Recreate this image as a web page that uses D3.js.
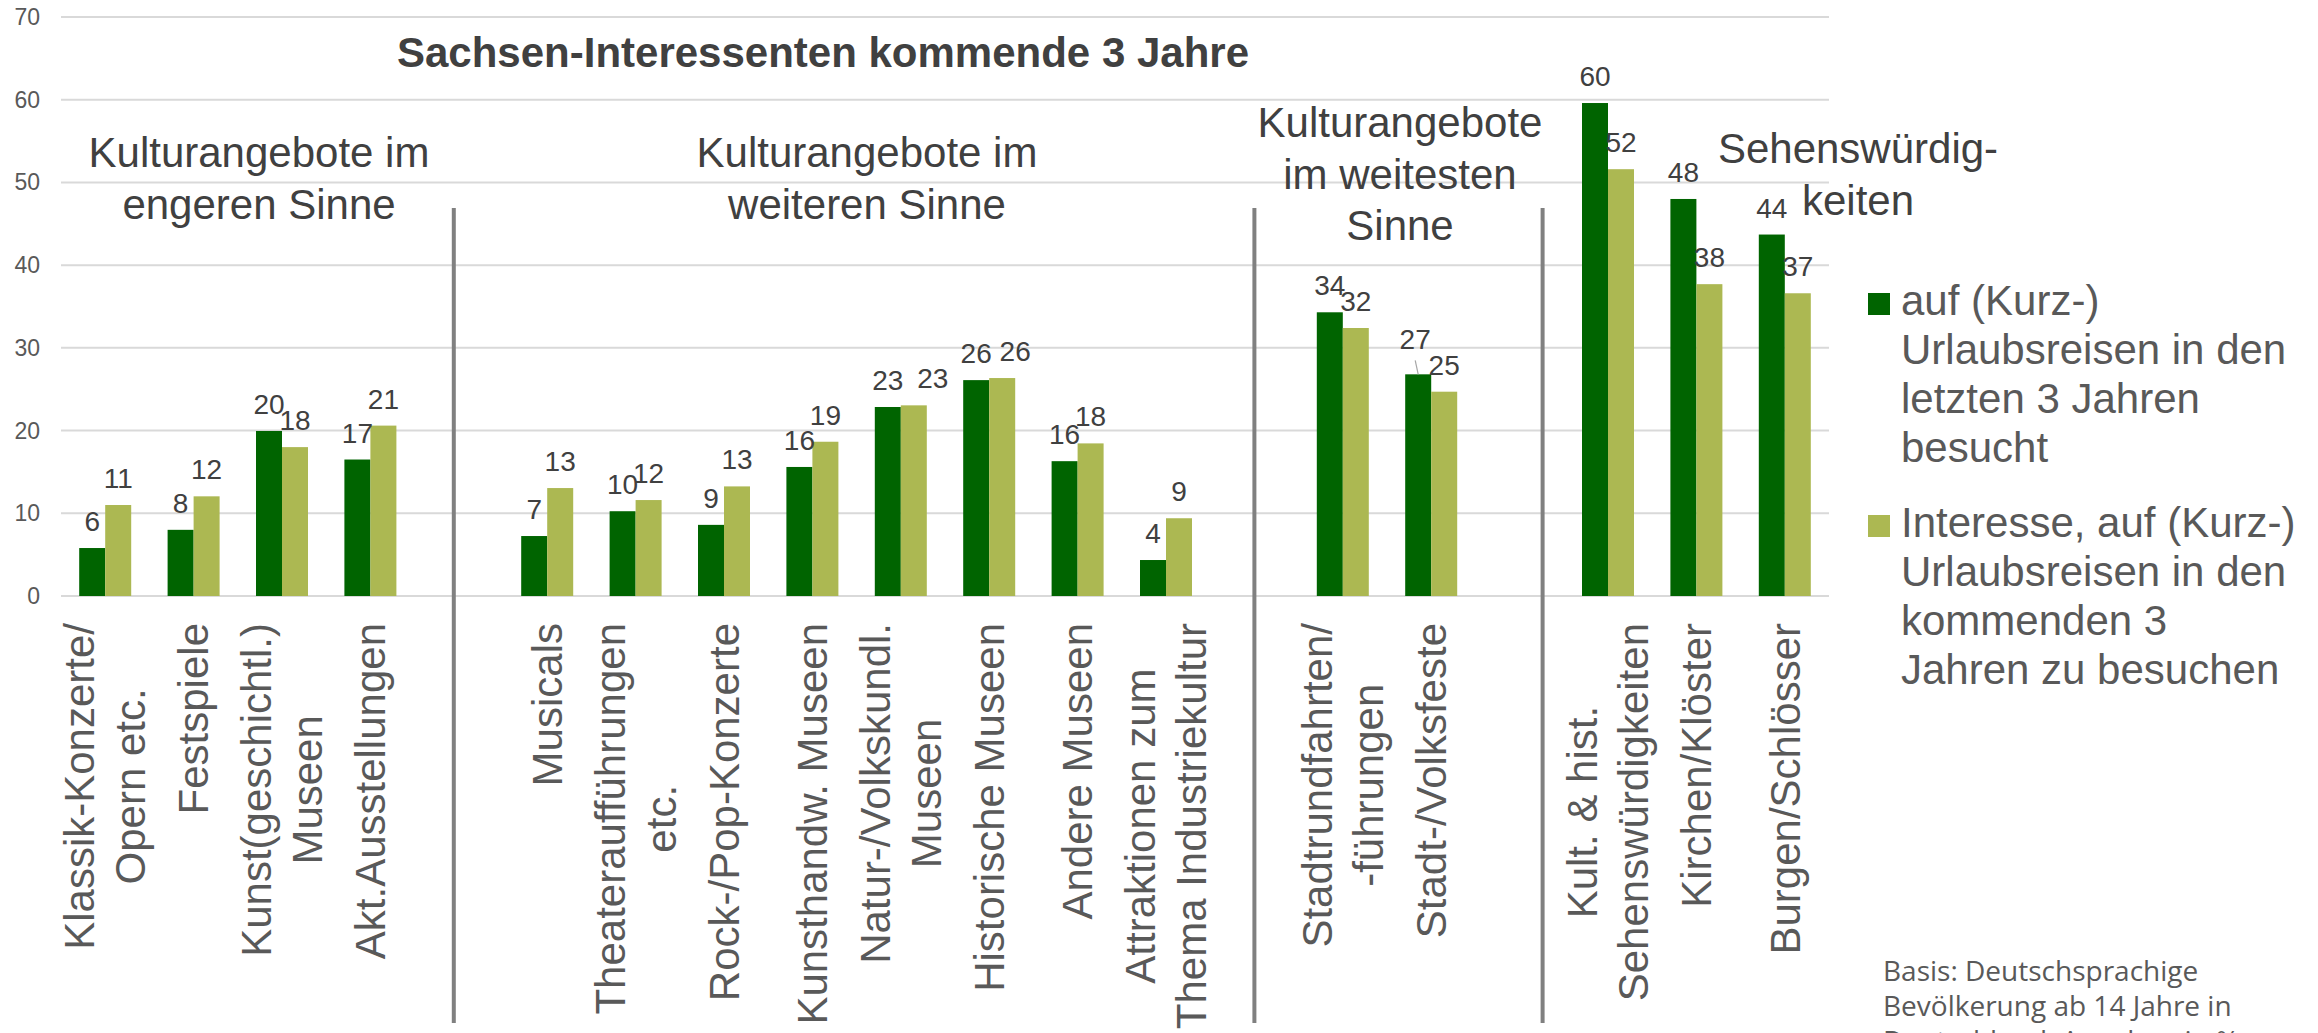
<!DOCTYPE html>
<html><head><meta charset="utf-8">
<script src="https://cdn.jsdelivr.net/npm/d3@7"></script>
<style>html,body{margin:0;padding:0;background:#fff;overflow:hidden}</style>
</head><body>
<svg id="chart" width="2318" height="1033"></svg>
<script>
// ---------- data ----------
const categories = [
  ["Klassik-Konzerte/", "Opern etc."],
  ["Festspiele"],
  ["Kunst(geschichtl.)", "Museen"],
  ["Akt.Ausstellungen"],
  ["Musicals"],
  ["Theateraufführungen", "etc."],
  ["Rock-/Pop-Konzerte"],
  ["Kunsthandw. Museen"],
  ["Natur-/Volkskundl.", "Museen"],
  ["Historische Museen"],
  ["Andere Museen"],
  ["Attraktionen zum", "Thema Industriekultur"],
  ["Stadtrundfahrten/", "-führungen"],
  ["Stadt-/Volksfeste"],
  ["Kult. & hist.", "Sehenswürdigkeiten"],
  ["Kirchen/Klöster"],
  ["Burgen/Schlösser"]
];
const visited  = [5.8, 8.0, 19.95, 16.5, 7.25, 10.25, 8.6, 15.6, 22.85, 26.1, 16.3, 4.35, 34.3, 26.8, 59.6, 48.0, 43.7];
const interest = [11.0, 12.05, 18.0, 20.6, 13.05, 11.6, 13.25, 18.65, 23.05, 26.35, 18.45, 9.4, 32.4, 24.7, 51.6, 37.7, 36.6];
const groupSizes = [4, 8, 2, 3];
const groupLabels = [
  ["Kulturangebote im", "engeren Sinne"],
  ["Kulturangebote im", "weiteren Sinne"],
  ["Kulturangebote", "im weitesten", "Sinne"],
  ["Sehenswürdig-", "keiten"]
];
const seriesNames = [
  ["auf (Kurz-)", "Urlaubsreisen in den", "letzten 3 Jahren", "besucht"],
  ["Interesse, auf (Kurz-)", "Urlaubsreisen in den", "kommenden 3", "Jahren zu besuchen"]
];
const yTicks = [0, 10, 20, 30, 40, 50, 60, 70];
const title = "Sachsen-Interessenten kommende 3 Jahre";
const footnote = ["Basis: Deutschsprachige", "Bevölkerung ab 14 Jahre in", "Deutschland, Angaben in %"];

// ---------- layout ----------
const FONT = "'Liberation Sans', Arial, Helvetica, sans-serif";
const colDark = "#006400", colLight = "#ACB852";
const plotLeft = 61, plotRight = 1829, yBase = 596, yTop = 17;

const svg = d3.select("#chart").style("font-family", FONT);

// slots with spacers between groups
const slots = [];
const catKeys = [];
let ci = 0;
groupSizes.forEach((n, gi) => {
  for (let k = 0; k < n; k++) { const key = "c" + ci; slots.push(key); catKeys.push(key); ci++; }
  if (gi < groupSizes.length - 1) slots.push("gap" + gi);
});

const x = d3.scaleBand().domain(slots).range([plotLeft, plotRight]).paddingInner(0).paddingOuter(0);
const y = d3.scaleLinear().domain([0, 70]).range([yBase, yTop]);
const barW = 26;
const xs = d3.scaleBand().domain(["visited", "interest"])
  .range([x.bandwidth() / 2 - barW, x.bandwidth() / 2 + barW]);

// gridlines
svg.append("g").selectAll("line").data(yTicks).join("line")
  .attr("x1", plotLeft).attr("x2", plotRight)
  .attr("y1", d => y(d)).attr("y2", d => y(d))
  .attr("stroke", "#D9D9D9").attr("stroke-width", 2);

// y tick labels
svg.append("g").selectAll("text").data(yTicks).join("text")
  .attr("x", 40).attr("y", d => y(d)).attr("dy", "0.35em")
  .attr("text-anchor", "end").attr("font-size", 23).attr("fill", "#595959")
  .text(d => d);

// bars
const series = [{key: "visited", vals: visited, col: colDark}, {key: "interest", vals: interest, col: colLight}];
const barG = svg.append("g");
series.forEach(s => {
  barG.selectAll(null).data(s.vals).join("rect")
    .attr("x", (d, i) => x(catKeys[i]) + xs(s.key))
    .attr("width", xs.bandwidth())
    .attr("y", d => y(d))
    .attr("height", d => yBase - y(d))
    .attr("fill", s.col);
});

// data labels (a few were moved by hand in the original)
const labelNudge = {visited: {13: [-3, -8, true]}, interest: {8: [19, 0], 9: [13, 0]}};
const lblG = svg.append("g");
series.forEach(s => {
  s.vals.forEach((v, i) => {
    const cx = x(catKeys[i]) + xs(s.key) + xs.bandwidth() / 2;
    const nd = (labelNudge[s.key] && labelNudge[s.key][i]) || [0, 0, false];
    const by = y(v) - 17 + nd[1];
    lblG.append("text").attr("x", cx + nd[0]).attr("y", by)
      .attr("text-anchor", "middle").attr("font-size", 28).attr("fill", "#404040")
      .text(Math.round(v));
    if (nd[2]) {
      lblG.append("line").attr("x1", cx + nd[0]).attr("y1", by + 11).attr("x2", cx).attr("y2", y(v))
        .attr("stroke", "#A6A6A6").attr("stroke-width", 1.2);
    }
  });
});

// separators
const sepOffsets = [-5, 0, 23];
const sepG = svg.append("g");
slots.filter(k => k.startsWith("gap")).forEach((k, i) => {
  const sx = x(k) + x.bandwidth() / 2 + sepOffsets[i];
  sepG.append("line").attr("x1", sx).attr("x2", sx).attr("y1", 208).attr("y2", 1023)
    .attr("stroke", "#808080").attr("stroke-width", 4);
});

// category labels (rotated)
const labelTop = 623, catLH = 51;
const catG = svg.append("g").attr("font-size", 42).attr("fill", "#595959");
categories.forEach((lines, i) => {
  const cx = x(catKeys[i]) + x.bandwidth() / 2;
  const g = catG.append("g").attr("transform", `translate(${cx},${labelTop}) rotate(-90)`);
  const n = lines.length;
  const texts = lines.map((ln, j) => g.append("text").attr("text-anchor", "middle")
    .attr("y", (j - (n - 1) / 2) * catLH).attr("dy", "0.35em").text(ln));
  const maxLen = d3.max(texts, t => t.node().getComputedTextLength());
  texts.forEach(t => t.attr("x", -maxLen / 2));
});

// title
svg.append("text").attr("x", 823).attr("y", 67).attr("text-anchor", "middle")
  .attr("font-size", 42).attr("font-weight", "bold").attr("fill", "#404040").text(title);

// group labels
const groupPos = [{cx: 259, y0: 167}, {cx: 867, y0: 167}, {cx: 1400, y0: 137}, {cx: 1858, y0: 163}];
const grpG = svg.append("g").attr("font-size", 42).attr("fill", "#404040").attr("text-anchor", "middle");
groupLabels.forEach((lines, gi) => {
  lines.forEach((ln, j) => {
    grpG.append("text").attr("x", groupPos[gi].cx).attr("y", groupPos[gi].y0 + j * 51.5).text(ln);
  });
});

// legend
const legG = svg.append("g").attr("font-size", 42).attr("fill", "#595959");
const legStarts = [315, 537];
series.forEach((s, si) => {
  const base = legStarts[si];
  legG.append("rect").attr("x", 1868).attr("y", base - 22).attr("width", 22).attr("height", 22).attr("fill", s.col);
  seriesNames[si].forEach((ln, j) => {
    legG.append("text").attr("x", 1901).attr("y", base + j * 49).text(ln);
  });
});

// footnote (cut off at the bottom edge, as in the original)
const fnG = svg.append("g").attr("font-family", "'Open Sans', sans-serif").attr("font-size", 28).attr("fill", "#595959");
footnote.forEach((ln, j) => {
  fnG.append("text").attr("x", 1883).attr("y", 981 + j * 35).text(ln);
});
</script>
</body></html>
